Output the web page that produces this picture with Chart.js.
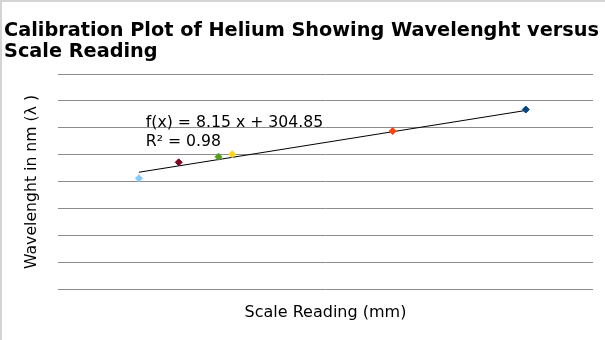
<!DOCTYPE html>
<html>
<head>
<meta charset="utf-8">
<script src="https://cdn.jsdelivr.net/npm/chart.js@4"></script>
<style>
  html, body { margin: 0; padding: 0; background: #fff; font-family: "DejaVu Sans", sans-serif; }
  canvas { display: block; }
</style>
</head>
<body>
<canvas id="calibChart" width="605" height="340"></canvas>
<script>
// scale readings (mm) and helium line wavelengths (nm)
const scaleReading = [44.1, 34.4, 22.7, 21.7, 18.8, 15.9];
const wavelength = [667.8, 587.6, 501.6, 492.2, 471.3, 412.1];
const pointColors = ['#004586', '#ff420e', '#ffd320', '#579d1c', '#7e0021', '#83caff'];

// linear fit shown on the chart
const slope = 8.15;
const intercept = 304.85;
const rSquared = 0.98;

const titleLines = ['Calibration Plot of Helium Showing Wavelenght versus', 'Scale Reading'];
const xTitle = 'Scale Reading (mm)';
const yTitle = 'Wavelenght in nm (λ )';

const xMin = Math.min(...scaleReading);
const xMax = Math.max(...scaleReading);
const trend = [
  { x: xMin, y: slope * xMin + intercept },
  { x: xMax, y: slope * xMax + intercept }
];

const FONT = '"DejaVu Sans", sans-serif';

// titles, equation text and the frame edges
const textPlugin = {
  id: 'textPlugin',
  afterDraw(chart) {
    const c = chart.ctx;
    const area = chart.chartArea;
    const xs = chart.scales.x;
    const ys = chart.scales.y;
    c.save();
    c.strokeStyle = '#d4d4d4';
    c.lineWidth = 2;
    c.beginPath();
    c.moveTo(1, chart.height);
    c.lineTo(1, 1);
    c.lineTo(chart.width, 1);
    c.stroke();

    c.fillStyle = '#000';
    c.textBaseline = 'alphabetic';
    c.textAlign = 'left';
    c.font = 'bold 19.3px ' + FONT;
    c.fillText(titleLines[0], 4, 36);
    c.fillText(titleLines[1], 4, 57);

    c.font = '16px ' + FONT;
    c.textAlign = 'center';
    c.fillText(xTitle, (area.left + area.right) / 2, 317);

    c.font = '15.7px ' + FONT;
    c.translate(36, 182);
    c.rotate(-Math.PI / 2);
    c.fillText(yTitle, 0, 0);
    c.setTransform(1, 0, 0, 1, 0, 0);

    c.textAlign = 'left';
    const tx = xs.getPixelForValue(16.4);
    c.fillText('f(x) = ' + slope + ' x + ' + intercept, tx, ys.getPixelForValue(601));
    c.fillText('R² = ' + rSquared.toFixed(2), tx, ys.getPixelForValue(531));
    c.restore();
  }
};

function draw() {
  new Chart(document.getElementById('calibChart').getContext('2d'), {
    type: 'scatter',
    data: {
      datasets: [
        {
          label: 'Wavelength',
          data: scaleReading.map((v, i) => ({ x: v, y: wavelength[i] })),
          pointStyle: 'rectRot',
          pointRadius: 3.5,
          pointBorderWidth: 1,
          pointBackgroundColor: pointColors,
          pointBorderColor: pointColors,
          order: 1
        },
        {
          type: 'line',
          label: 'Linear fit',
          data: trend,
          borderColor: '#000',
          borderWidth: 1,
          pointRadius: 0,
          fill: false,
          order: 2
        }
      ]
    },
    options: {
      responsive: false,
      animation: false,
      layout: { padding: { left: 58, right: 12, top: 74, bottom: 43 } },
      plugins: {
        legend: { display: false },
        tooltip: { enabled: false },
        title: { display: false }
      },
      scales: {
        x: {
          type: 'linear',
          min: 10,
          max: 49,
          ticks: { display: false },
          grid: { display: false },
          border: { display: false }
        },
        y: {
          min: 0,
          max: 800,
          ticks: { display: false, stepSize: 100 },
          grid: { color: '#8c8c8c', lineWidth: 1, drawTicks: false },
          border: { display: false }
        }
      }
    },
    plugins: [textPlugin]
  });
}

Promise.all([
  document.fonts.load('15px "DejaVu Sans"'),
  document.fonts.load('bold 19px "DejaVu Sans"')
]).then(draw, draw);
</script>
</body>
</html>
